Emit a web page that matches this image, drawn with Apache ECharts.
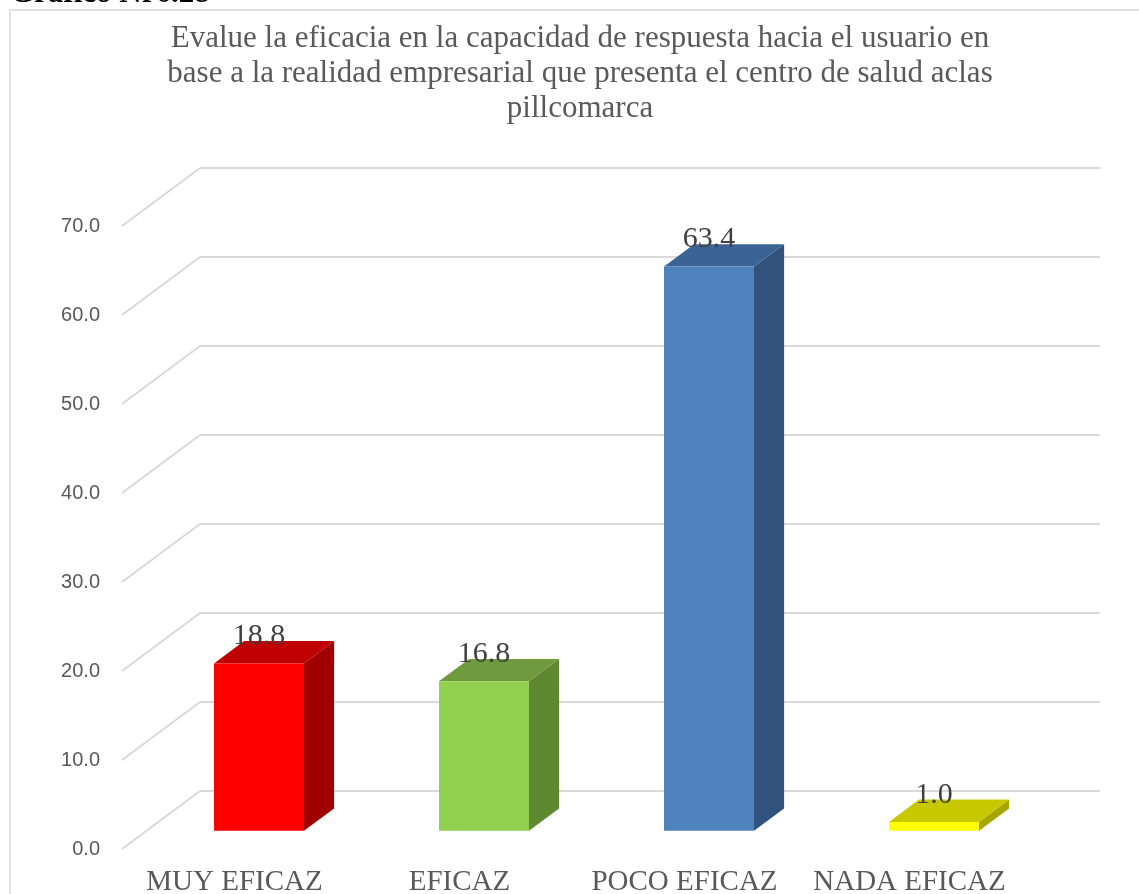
<!DOCTYPE html>
<html>
<head>
<meta charset="utf-8">
<script src="https://cdn.jsdelivr.net/npm/echarts@6/dist/echarts.min.js"></script>
<style>
html,body{margin:0;padding:0;background:#fff;}
#chart{width:1139px;height:894px;}
</style>
</head>
<body>
<div id="chart"></div>
<script>
const categories = ['MUY EFICAZ', 'EFICAZ', 'POCO EFICAZ', 'NADA EFICAZ'];
const values = [18.8, 16.8, 63.4, 1.0];
const valueLabels = ['18.8', '16.8', '63.4', '1.0'];
const yMin = 0, yMax = 70, yStep = 10;
const yTicks = [0, 10, 20, 30, 40, 50, 60, 70];
const chartTitle = 'Evalue la eficacia en la capacidad de respuesta hacia el usuario en\nbase a la realidad empresarial que presenta el centro de salud aclas\npillcomarca';
const docCaption = 'Grafico Nr6.28';

const frontColors = ['#FF0000', '#92D050', '#4F81BD', '#FFFF00'];
const topColors   = ['#C00000', '#6F9A3D', '#3B6396', '#C8C800'];
const sideColors  = ['#A00000', '#5E8831', '#30527C', '#A6A600'];

// depth of the 3D floor (back plane -> front plane)
const DX = -78, DY = 58;
const F_FRONT = 0.686, F_BACK = 0.30;
const GRID_COLOR = '#D9D9D9';

const chart = echarts.init(document.getElementById('chart'));

chart.setOption({
  animation: false,
  backgroundColor: '#fff',
  title: {
    text: chartTitle,
    left: 575,
    top: 16,
    textAlign: 'center',
    textStyle: {
      fontFamily: 'Liberation Serif',
      fontSize: 31,
      fontWeight: 'normal',
      color: '#595959',
      lineHeight: 35
    }
  },
  graphic: [
    {
      type: 'rect',
      shape: { x: 10, y: 10, width: 1200, height: 1000 },
      style: { fill: 'none', stroke: GRID_COLOR, lineWidth: 1.5 },
      z: -10
    },
    {
      type: 'text',
      x: 10,
      y: -22,
      style: {
        text: docCaption,
        font: 'bold 31px "Liberation Serif"',
        fill: '#000',
        verticalAlign: 'top'
      },
      z: 10
    }
  ],
  grid: [
    { left: 200, right: 39, top: 168, bottom: 103, outerBoundsMode: 'none', containLabel: false },
    { left: 122, right: 117, top: 226, bottom: 45, outerBoundsMode: 'none', containLabel: false }
  ],
  xAxis: [
    {
      gridIndex: 0, type: 'category', data: categories,
      axisLine: { show: false }, axisTick: { show: false }, axisLabel: { show: false },
      splitLine: { show: false }
    },
    {
      gridIndex: 1, type: 'category', data: categories,
      axisLine: { show: false }, axisTick: { show: false },
      axisLabel: {
        interval: 0,
        margin: 19,
        fontFamily: 'Liberation Serif',
        fontSize: 29,
        color: '#595959'
      }
    }
  ],
  yAxis: [
    {
      gridIndex: 0, type: 'value', min: yMin, max: yMax, interval: yStep,
      axisLine: { show: false }, axisTick: { show: false }, axisLabel: { show: false },
      splitLine: { show: true, lineStyle: { color: GRID_COLOR, width: 2 } }
    },
    {
      gridIndex: 1, type: 'value', min: yMin, max: yMax, interval: yStep,
      axisLine: { show: false }, axisTick: { show: false },
      splitLine: { show: false },
      axisLabel: {
        margin: 22,
        fontFamily: 'Liberation Sans',
        fontSize: 20,
        color: '#595959',
        formatter: v => v.toFixed(1)
      }
    }
  ],
  series: [
    {
      type: 'custom',
      xAxisIndex: 0, yAxisIndex: 0,
      data: yTicks.map(t => [0, t]),
      silent: true,
      z: 1,
      renderItem: function (params, api) {
        const p = api.coord([0, api.value(1)]);
        const half = api.size([1, 0])[0] / 2;
        const x0 = p[0] - half, y0 = p[1];
        return {
          type: 'line',
          shape: { x1: x0, y1: y0, x2: x0 + DX, y2: y0 + DY },
          style: { stroke: GRID_COLOR, lineWidth: 2 }
        };
      }
    },
    {
      type: 'custom',
      xAxisIndex: 0, yAxisIndex: 0,
      data: values.map((v, i) => [i, v]),
      z: 5,
      renderItem: function (params, api) {
        const i = api.value(0), v = api.value(1);
        const base = api.coord([i, 0]);
        const top = api.coord([i, v]);
        const bw = api.size([1, 0])[0] * 0.4;
        const fdx = DX * F_FRONT, fdy = DY * F_FRONT;
        const bdx = DX * F_BACK, bdy = DY * F_BACK;
        const ox = bdx - fdx, oy = bdy - fdy; // front -> back offset
        const xl = base[0] + fdx - bw / 2, xr = base[0] + fdx + bw / 2;
        const yb = base[1] + fdy, yt = top[1] + fdy;
        const idx = params.dataIndex;
        return {
          type: 'group',
          children: [
            {
              type: 'polygon',
              shape: { points: [[xr, yb], [xr, yt], [xr + ox, yt + oy], [xr + ox, yb + oy]] },
              style: { fill: sideColors[idx] }
            },
            {
              type: 'polygon',
              shape: { points: [[xl, yt], [xr, yt], [xr + ox, yt + oy], [xl + ox, yt + oy]] },
              style: { fill: topColors[idx] }
            },
            {
              type: 'rect',
              shape: { x: xl, y: yt, width: bw, height: yb - yt },
              style: { fill: frontColors[idx] }
            },
            {
              type: 'text',
              x: (xl + xr) / 2,
              y: yt - 12,
              style: {
                text: valueLabels[idx],
                align: 'center',
                verticalAlign: 'bottom',
                font: '30px "Liberation Serif"',
                fill: '#404040'
              },
              z2: 10
            }
          ]
        };
      }
    }
  ]
});
</script>
</body>
</html>
